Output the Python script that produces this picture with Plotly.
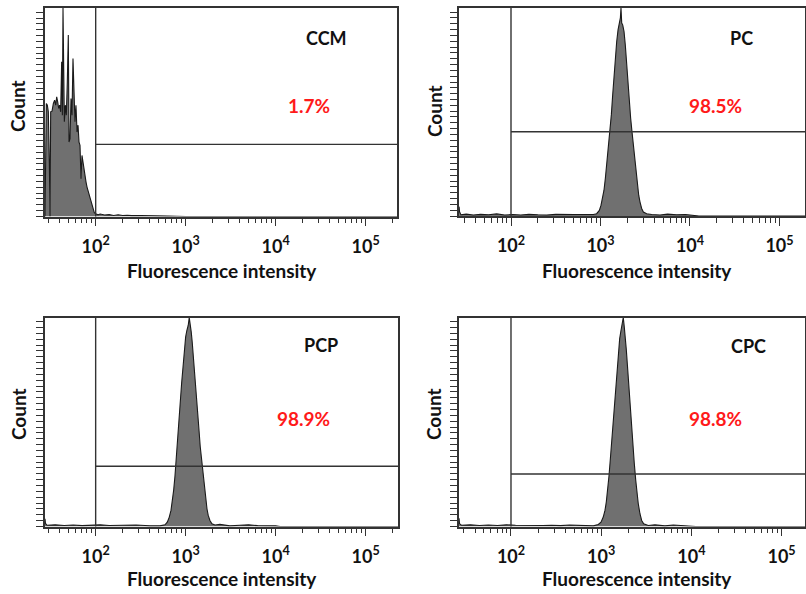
import numpy as np
import plotly.graph_objects as go

# ---- data: histogram outlines (log10 fluorescence intensity, count in % of full scale) ----
ccm_log10 = [1.437, 1.444, 1.452, 1.463, 1.474, 1.485, 1.493, 1.500, 1.515, 1.530, 1.544, 1.556,
             1.567, 1.578, 1.589, 1.600, 1.611, 1.622, 1.630, 1.637, 1.644, 1.652, 1.663, 1.674,
             1.685, 1.696, 1.704, 1.715, 1.726, 1.737, 1.748, 1.759, 1.770, 1.781, 1.793, 1.804,
             1.815, 1.826, 1.837, 1.848, 1.859, 1.870, 1.881, 1.893, 1.904, 1.915, 1.926, 1.941,
             1.956, 1.970, 1.985, 2.000, 2.026, 2.05, 2.10, 2.15, 2.20, 2.25, 2.30, 2.35, 2.40,
             2.50, 2.60, 2.70, 2.80, 2.90, 3.00, 5.35]
ccm_count = [0, 26.9, 54.2, 53.4, 50.2, 26.1, 0, 50.2, 50.5, 54.2, 55.8, 53.4,
             57.4, 55.0, 51.8, 53.4, 50.2, 74.2, 48.6, 100, 69.4, 45.4, 53.4, 48.6,
             64.6, 87.0, 35.7, 37.3, 56.6, 48.6, 75.8, 63.0, 45.4, 53.4, 40.5, 43.8,
             35.7, 34.1, 18.1, 29.3, 26.1, 21.3, 18.1, 16.5, 14.1, 12.5, 10.1, 8.5,
             6.1, 3.7, 1.8, 1.3, 0.8, 1.2, 0.7, 0.9, 0.5, 0.8, 0.5, 0.6, 0.4,
             0.5, 0.3, 0.4, 0.2, 0.1, 0, 0]

pc_log10 = [1.420, 1.425, 1.44, 1.50, 1.58, 1.66, 1.75, 1.84, 1.93, 2.02, 2.11, 2.20, 2.30,
            2.40, 2.50, 2.60, 2.70, 2.771, 2.920, 2.957, 2.987, 3.006, 3.024, 3.039, 3.054,
            3.069, 3.088, 3.106, 3.121, 3.136, 3.151, 3.166, 3.181, 3.196, 3.210, 3.222, 3.229,
            3.237, 3.248, 3.263, 3.277, 3.292, 3.307, 3.322, 3.337, 3.352, 3.367, 3.382, 3.397,
            3.412, 3.427, 3.441, 3.460, 3.479, 3.516, 3.572, 3.665, 3.75, 3.85, 3.95, 4.03,
            4.10, 5.30]
pc_count = [4.5, 2.0, 0.6, 0.9, 0.5, 0.8, 0.6, 1.0, 0.5, 0.7, 0.5, 0.8, 0.6,
            0.5, 0.8, 0.6, 0.7, 0.7, 0.7, 1.1, 2.7, 5.2, 8.4, 12.4, 18.0,
            24.4, 32.5, 40.5, 48.6, 58.2, 67.8, 75.9, 83.9, 89.5, 93.6, 95.2, 100,
            92.8, 91.9, 88.7, 82.3, 72.7, 63.0, 55.0, 47.0, 40.5, 34.1, 27.7, 21.2,
            14.8, 10.0, 6.8, 3.6, 1.9, 1.1, 0.7, 0.5, 0.9, 0.6, 0.7, 0.3,
            0, 0]

pcp_log10 = [1.437, 1.442, 1.46, 1.55, 1.65, 1.75, 1.85, 1.95, 2.05, 2.15, 2.25, 2.35, 2.45,
             2.55, 2.603, 2.714, 2.770, 2.796, 2.818, 2.837, 2.851, 2.867, 2.881, 2.896, 2.911,
             2.926, 2.940, 2.956, 2.970, 2.984, 3.000, 3.014, 3.029, 3.040, 3.051, 3.062, 3.073,
             3.089, 3.103, 3.118, 3.133, 3.148, 3.162, 3.178, 3.192, 3.207, 3.222, 3.237, 3.251,
             3.270, 3.292, 3.326, 3.381, 3.492, 3.60, 3.70, 3.80, 3.90, 4.00, 4.05, 5.36]
pcp_count = [3.7, 1.5, 0.6, 0.8, 0.5, 0.7, 0.4, 0.6, 0.8, 0.5, 0.6, 0.4, 0.7,
             0.5, 0.3, 0.3, 0.8, 2.1, 4.5, 7.7, 11.8, 17.4, 23.9, 31.9, 40.0,
             49.6, 59.3, 68.9, 77.0, 85.0, 90.7, 93.9, 96.3, 100, 94.7, 93.1, 88.3,
             80.2, 70.5, 62.5, 54.4, 46.4, 38.3, 31.9, 25.4, 19.0, 13.4, 8.5, 5.3,
             2.9, 1.3, 0.7, 1.0, 0.3, 0.6, 0.8, 0.4, 0.5, 0.3, 0, 0]

cpc_log10 = [1.424, 1.429, 1.45, 1.55, 1.65, 1.75, 1.85, 1.95, 2.05, 2.15, 2.25, 2.35, 2.45,
             2.55, 2.65, 2.75, 2.820, 2.913, 2.968, 2.998, 3.023, 3.042, 3.057, 3.072, 3.086,
             3.101, 3.116, 3.131, 3.145, 3.161, 3.175, 3.190, 3.205, 3.220, 3.234, 3.245, 3.256,
             3.267, 3.278, 3.294, 3.308, 3.323, 3.338, 3.353, 3.367, 3.383, 3.397, 3.411, 3.430,
             3.449, 3.471, 3.522, 3.596, 3.707, 3.80, 3.90, 4.00, 4.05, 5.27]
cpc_count = [3.9, 1.4, 0.6, 0.8, 0.5, 0.7, 0.5, 0.8, 0.6, 0.5, 0.7, 0.5, 0.6,
             0.4, 0.7, 0.5, 0.3, 0.3, 1.0, 2.1, 4.5, 7.7, 11.8, 17.4, 23.9,
             31.9, 40.0, 49.6, 59.3, 67.3, 75.3, 83.4, 89.9, 93.9, 97.1, 100, 95.5,
             91.5, 85.0, 75.3, 65.7, 56.0, 46.4, 38.3, 30.3, 22.2, 15.8, 11.0, 6.1,
             2.9, 1.3, 0.5, 0.8, 0.3, 0.7, 0.5, 0.4, 0, 0]

sample_names = ["CCM", "PC", "PCP", "CPC"]
positive_pct = ["1.7%", "98.5%", "98.9%", "98.8%"]
gate_threshold = [100, 100, 100, 100]          # marker gate start (intensity)
gate_levels = [34.6, 40.5, 28.8, 25.1]          # marker bar height (% of full scale)
tick_values = [100, 1000, 10000, 100000]
tick_labels = ["10<sup>2</sup>", "10<sup>3</sup>", "10<sup>4</sup>", "10<sup>5</sup>"]

series = [(ccm_log10, ccm_count), (pc_log10, pc_count),
          (pcp_log10, pcp_count), (cpc_log10, cpc_count)]

# ---- layout geometry (pixels on a 806 x 594 canvas) ----
W, H = 806, 594
# (left, right, top, bottom) of each plot box
boxes = [(45, 397, 8, 216.5), (459, 805, 8, 216), (45, 398, 317.5, 526.5), (459, 805, 317.5, 526.5)]
xranges = [(1.437, 5.348), (1.419, 5.285), (1.437, 5.36), (1.4235, 5.26)]

FONT = "Lato"
LINE = "#333333"
FILL = "#707070"

minor_vals = [k * 10 ** d for d in range(1, 6) for k in range(2, 10) if k * 10 ** d < 2.6e5]

fig = go.Figure()
for i, ((lg, cnt), (l, r, t, b), xr) in enumerate(zip(series, boxes, xranges)):
    n = "" if i == 0 else str(i + 1)
    fig.add_trace(go.Scatter(
        x=np.power(10.0, lg), y=cnt, mode="lines", fill="tozeroy",
        fillcolor=FILL, line=dict(color="#1a1a1a", width=1.1),
        xaxis="x" + n, yaxis="y" + n, showlegend=False, hoverinfo="skip"))

    fig.update_layout(**{
        "xaxis" + n: dict(
            domain=[l / W, r / W], anchor="y" + n, type="log", range=list(xr),
            tickmode="array", tickvals=tick_values, ticktext=tick_labels,
            ticks="outside", ticklen=8, tickwidth=1.4, tickcolor=LINE,
            minor=dict(tickvals=minor_vals, ticks="outside", ticklen=5, tickwidth=1.2, tickcolor=LINE),
            showline=True, linecolor=LINE, linewidth=1.6, mirror=True,
            showgrid=False, zeroline=False, ticklabelstandoff=5,
            tickfont=dict(family=FONT, size=18, color="#111", weight="bold"),
            fixedrange=True),
        "yaxis" + n: dict(
            domain=[1 - b / H, 1 - t / H], anchor="x" + n, range=[0, 100],
            tickmode="linear", tick0=0, dtick=2.8, ticks="outside", ticklen=7,
            tickwidth=1.3, tickcolor=LINE, showticklabels=False,
            showline=True, linecolor=LINE, linewidth=1.6, mirror=True,
            showgrid=False, zeroline=False, fixedrange=True),
    })

    # marker gate: vertical at the threshold, horizontal bar to the right edge
    fig.add_shape(type="line", xref="x" + n, yref="y" + n + " domain",
                  x0=gate_threshold[i], x1=gate_threshold[i], y0=0, y1=1,
                  line=dict(color=LINE, width=1.4))
    fig.add_shape(type="line", xref="x" + n, yref="y" + n,
                  x0=gate_threshold[i], x1=10 ** xr[1], y0=gate_levels[i], y1=gate_levels[i],
                  line=dict(color=LINE, width=1.4))

# text positions in pixels: sample name, percentage, x title, y title
name_pos = [(326, 38.5), (741, 38), (321, 345), (748, 346)]
pct_pos = [(309, 106), (715, 105), (303, 418), (715, 418)]
xtitle_pos = [(222, 270), (637, 270), (222, 578), (637, 578)]
ytitle_pos = [(18, 106), (435, 111), (18, 414), (433, 414)]

def ann(x, y, text, size, color, angle=0):
    fig.add_annotation(x=x / W, y=1 - y / H, xref="paper", yref="paper", text=text,
                       showarrow=False, xanchor="center", yanchor="middle", textangle=angle,
                       font=dict(family=FONT, size=size, color=color, weight="bold"))

for i in range(4):
    ann(*name_pos[i], sample_names[i], 18, "#111")
    ann(*pct_pos[i], positive_pct[i], 19, "#ff1a1a")
    ann(*xtitle_pos[i], "Fluorescence intensity", 19, "#111")
    ann(*ytitle_pos[i], "Count", 19, "#111", angle=-90)

fig.update_layout(width=W, height=H, margin=dict(l=0, r=0, t=0, b=0),
                  paper_bgcolor="white", plot_bgcolor="white", autosize=False)

fig.write_html("out.html")
